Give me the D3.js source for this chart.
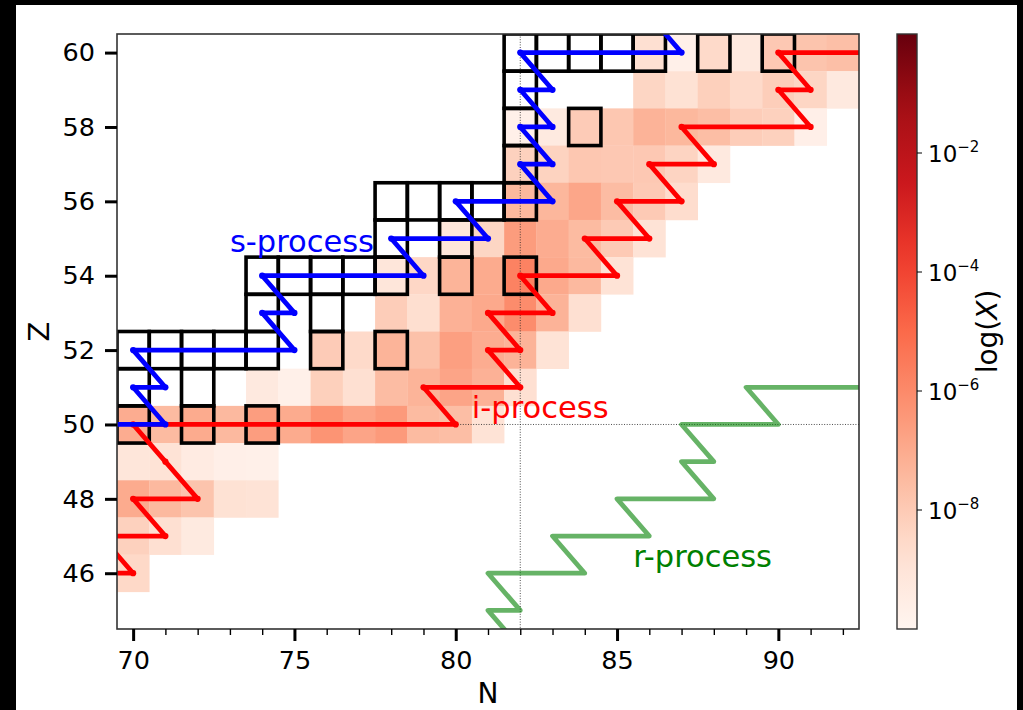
<!DOCTYPE html>
<html lang="en">
<head>
<meta charset="UTF-8" />
<title>s-, i- and r-process paths</title>
<script src="https://d3js.org/d3.v7.min.js"></script>
<style>
    body { margin: 0; background: #000; }
    svg { display: block; font-family: "DejaVu Sans", sans-serif; }
</style>
</head>
<body>
<script>
    // abundance map, log10(X) per cell, one list per Z row (null = empty)
    var rowZ = [60, 59, 58, 57, 56, 55, 54, 53, 52, 51, 50, 49, 48, 47, 46];
    var rowStartN = [86, 86, 82, 82, 82, 80, 78, 78, 76, 74, 70, 70, 70, 70, 70];
    var rowLogX = [
        [-8.75, -9.7, -8.55, -9.3, -7.95, -7.8, -7.65],
        [-8.4, -8.85, -8.2, -8.55, -8.15, -8.4, -9.3],
        [-9.7, -9.35, -8.05, -7.9, -7.25, -7.4, -7.6, -8.1, -8.25, -9.65],
        [-8.25, -8.3, -7.9, -7.95, -7.95, -8.35, -9.3],
        [-7.4, -7.38, -6.85, -7.55, -8.0, -8.65],
        [-9.1, -8.4, -6.55, -7.05, -7.5, -8.0, -8.9],
        [-9.1, -8.45, -7.3, -7.0, -5.75, -6.95, -7.45, -8.9],
        [-8.1, -8.7, -7.2, -6.95, -6.05, -7.25, -8.75],
        [-8.05, -8.55, -7.3, -7.7, -6.65, -7.05, -7.25, -8.9],
        [-9.3, -9.7, -8.2, -8.75, -7.55, -7.3, -6.8, -7.2, -8.75],
        [-7.05, -7.5, -7.0, -7.45, -6.6, -7.0, -6.3, -6.8, -6.5, -7.5, -7.6, -8.9],
        [-9.1, -8.9, -9.4, -9.65, -9.7],
        [-7.0, -7.45, -7.8, -8.85, -8.9],
        [-8.25, -8.75, -9.35],
        [-8.5]
    ];

    // stable (and long-lived) isotopes, drawn as black squares
    var stableN = [82, 83, 84, 85, 86, 88, 90, 82, 82, 84, 82, 78, 79, 80, 81, 82, 78, 80,
                   74, 75, 76, 77, 78, 80, 82, 74, 76, 70, 71, 72, 73, 74, 76, 78, 70, 72, 70, 72, 74];
    var stableZ = [60, 60, 60, 60, 60, 60, 60, 59, 58, 58, 57, 56, 56, 56, 56, 56, 55, 55,
                   54, 54, 54, 54, 54, 54, 54, 53, 53, 52, 52, 52, 52, 52, 52, 52, 51, 51, 50, 50, 50];

    // process paths
    var sPathN = [68, 71, 70, 71, 70, 75, 74, 75, 74, 79, 78, 81, 80, 83, 82, 83, 82, 83, 82, 83, 82, 87, 86];
    var sPathZ = [50, 50, 51, 51, 52, 52, 53, 53, 54, 54, 55, 55, 56, 56, 57, 57, 58, 58, 59, 59, 60, 60, 61];
    var iPathN = [69, 70, 69, 71, 70, 72, 71, 70, 80, 79, 82, 81, 82, 81, 83, 82, 85, 84, 86, 85, 87, 86, 88, 87, 91, 90, 91, 90, 94];
    var iPathZ = [46, 46, 47, 47, 48, 48, 49, 50, 50, 51, 51, 52, 52, 53, 53, 54, 54, 55, 55, 56, 56, 57, 57, 58, 58, 59, 59, 60, 60];
    var rPathN = [82, 81, 82, 81, 84, 83, 86, 85, 88, 87, 88, 87, 90, 89, 94];
    var rPathZ = [44, 45, 45, 46, 46, 47, 47, 48, 48, 49, 49, 50, 50, 51, 51];

    var labelText = ["s-process", "i-process", "r-process"];
    var labelN = [73, 80.5, 85.5];
    var labelZ = [54.65, 50.17, 46.18];

    var xMajor = [70, 75, 80, 85, 90];
    var yMajor = [46, 48, 50, 52, 54, 56, 58, 60];
    var cbTicks = [1e-2, 1e-4, 1e-6, 1e-8];
    var cbExp = ["\u22122", "\u22124", "\u22126", "\u22128"];

    var w = 1023, h = 710;
    var pLeft = 117, pRight = 859, pTop = 34, pBottom = 629;

    var svg = d3.select("body").append("svg")
        .attr("width", w)
        .attr("height", h);

    svg.append("rect").attr("width", w).attr("height", h).attr("fill", "#000");
    svg.append("rect").attr("x", 16).attr("y", 5).attr("width", 1001).attr("height", 705).attr("fill", "#fff");

    var xScale = d3.scaleLinear().domain([69.5, 92.5]).range([pLeft, pRight]);
    var yScale = d3.scaleLinear().domain([44.5, 60.5]).range([pBottom, pTop]);

    // matplotlib "Reds"
    var reds = ["#fff5f0", "#fee0d2", "#fcbba1", "#fc9272", "#fb6a4a", "#ef3b2c", "#cb181d", "#a50f15", "#67000d"];
    var color = d3.scaleLinear()
        .domain(d3.range(9).map(function(i) { return -10 + i * 10 / 8; }))
        .range(reds)
        .clamp(true);

    svg.append("clipPath").attr("id", "plotclip")
        .append("rect")
        .attr("x", pLeft).attr("y", pTop)
        .attr("width", pRight - pLeft).attr("height", pBottom - pTop);

    var plot = svg.append("g").attr("clip-path", "url(#plotclip)");

    var cells = [];
    rowZ.forEach(function(z, r) {
        rowLogX[r].forEach(function(v, k) {
            if (v !== null) cells.push({ n: rowStartN[r] + k, z: z, v: v });
        });
    });

    var cw = xScale(1) - xScale(0);
    var ch = yScale(0) - yScale(1);

    plot.selectAll("rect.cell")
        .data(cells)
        .enter()
        .append("rect")
        .attr("class", "cell")
        .attr("x", function(d) { return xScale(d.n - 0.5); })
        .attr("y", function(d) { return yScale(d.z + 0.5); })
        .attr("width", cw + 0.3)
        .attr("height", ch + 0.3)
        .attr("fill", function(d) { return color(d.v); });

    // magic numbers N=82, Z=50
    plot.append("line")
        .attr("x1", xScale(82)).attr("x2", xScale(82))
        .attr("y1", pTop).attr("y2", pBottom)
        .attr("stroke", "#222").attr("stroke-width", 0.8)
        .attr("stroke-dasharray", "1,1.6");
    plot.append("line")
        .attr("x1", pLeft).attr("x2", pRight)
        .attr("y1", yScale(50)).attr("y2", yScale(50))
        .attr("stroke", "#222").attr("stroke-width", 0.8)
        .attr("stroke-dasharray", "1,1.6");

    // stable squares
    plot.selectAll("rect.stable")
        .data(d3.range(stableN.length))
        .enter()
        .append("rect")
        .attr("class", "stable")
        .attr("x", function(i) { return xScale(stableN[i] - 0.5); })
        .attr("y", function(i) { return yScale(stableZ[i] + 0.5); })
        .attr("width", cw)
        .attr("height", ch)
        .attr("fill", "none")
        .attr("stroke", "#000")
        .attr("stroke-width", 3.6);

    var line = d3.line()
        .x(function(d) { return xScale(d[0]); })
        .y(function(d) { return yScale(d[1]); });

    function drawPath(ns, zs, col, opacity, markers) {
        var pts = d3.zip(ns, zs);
        plot.append("path")
            .datum(pts)
            .attr("d", line)
            .attr("fill", "none")
            .attr("stroke", col)
            .attr("stroke-opacity", opacity)
            .attr("stroke-width", 4.8)
            .attr("stroke-linejoin", "round")
            .attr("stroke-linecap", "round");
        if (markers) {
            plot.append("g").selectAll("circle")
                .data(pts)
                .enter()
                .append("circle")
                .attr("cx", function(d) { return xScale(d[0]); })
                .attr("cy", function(d) { return yScale(d[1]); })
                .attr("r", 3.1)
                .attr("fill", col);
        }
    }

    drawPath(iPathN, iPathZ, "#ff0000", 1, true);
    drawPath(sPathN, sPathZ, "#0000ff", 1, true);
    drawPath(rPathN, rPathZ, "#008000", 0.6, false);

    var labelColor = ["#0000ff", "#ff0000", "#008000"];
    svg.selectAll("text.plabel")
        .data(labelText)
        .enter()
        .append("text")
        .attr("class", "plabel")
        .attr("x", function(d, i) { return xScale(labelN[i]); })
        .attr("y", function(d, i) { return yScale(labelZ[i]); })
        .attr("font-size", 30.5)
        .attr("fill", function(d, i) { return labelColor[i]; })
        .text(function(d) { return d; });

    // frame
    svg.append("rect")
        .attr("x", pLeft).attr("y", pTop)
        .attr("width", pRight - pLeft).attr("height", pBottom - pTop)
        .attr("fill", "none").attr("stroke", "#333").attr("stroke-width", 1.6);

    // x axis
    var xAxis = svg.append("g")
        .attr("transform", "translate(0," + pBottom + ")")
        .call(d3.axisBottom(xScale).tickValues(xMajor).tickSize(12).tickPadding(10).tickFormat(d3.format("d")));
    xAxis.select(".domain").remove();
    xAxis.attr("font-size", 25.5).attr("font-family", "DejaVu Sans, sans-serif");
    xAxis.selectAll("line").attr("stroke", "#000").attr("stroke-width", 3);
    xAxis.selectAll("text").attr("fill", "#000");

    var xMinor = d3.range(70, 93).filter(function(n) { return n % 5 !== 0; });
    var xMinorAxis = svg.append("g")
        .attr("transform", "translate(0," + pBottom + ")")
        .call(d3.axisBottom(xScale).tickValues(xMinor).tickSize(6).tickFormat(""));
    xMinorAxis.select(".domain").remove();
    xMinorAxis.selectAll("line").attr("stroke", "#000").attr("stroke-width", 1.4);

    // y axis
    var yAxis = svg.append("g")
        .attr("transform", "translate(" + pLeft + ",0)")
        .call(d3.axisLeft(yScale).tickValues(yMajor).tickSize(12).tickPadding(10).tickFormat(d3.format("d")));
    yAxis.select(".domain").remove();
    yAxis.attr("font-size", 25.5).attr("font-family", "DejaVu Sans, sans-serif");
    yAxis.selectAll("line").attr("stroke", "#000").attr("stroke-width", 3);
    yAxis.selectAll("text").attr("fill", "#000");

    svg.append("text")
        .attr("x", (pLeft + pRight) / 2).attr("y", 703)
        .attr("text-anchor", "middle").attr("font-size", 28)
        .text("N");
    svg.append("text")
        .attr("transform", "translate(49," + (pTop + pBottom) / 2 + ") rotate(-90)")
        .attr("text-anchor", "middle").attr("font-size", 29)
        .text("Z");

    // colorbar
    var cbX = 897, cbW = 20;
    var cbScale = d3.scaleLog().domain([1e-10, 1]).range([pBottom, pTop]);
    var grad = svg.append("defs").append("linearGradient")
        .attr("id", "cbgrad")
        .attr("x1", 0).attr("y1", 1).attr("x2", 0).attr("y2", 0);
    d3.range(0, 1.0001, 0.05).forEach(function(t) {
        grad.append("stop")
            .attr("offset", t)
            .attr("stop-color", color(-10 + 10 * t));
    });
    svg.append("rect")
        .attr("x", cbX).attr("y", pTop)
        .attr("width", cbW).attr("height", pBottom - pTop)
        .attr("fill", "url(#cbgrad)")
        .attr("stroke", "#333").attr("stroke-width", 1.4);

    var cbg = svg.append("g").selectAll("g")
        .data(cbTicks)
        .enter()
        .append("g")
        .attr("transform", function(d) { return "translate(0," + cbScale(d) + ")"; });
    cbg.append("line")
        .attr("x1", cbX + cbW).attr("x2", cbX + cbW + 5)
        .attr("stroke", "#000").attr("stroke-width", 1);
    var cbt = cbg.append("text")
        .attr("x", 928).attr("y", 8.5)
        .attr("font-size", 23);
    cbt.append("tspan").text("10");
    cbt.append("tspan")
        .attr("dy", -10)
        .attr("font-size", 15)
        .text(function(d, i) { return cbExp[i]; });

    var cbLabel = svg.append("text")
        .attr("transform", "translate(997," + (pTop + pBottom) / 2 + ") rotate(-90)")
        .attr("text-anchor", "middle").attr("font-size", 28);
    cbLabel.append("tspan").text("log(");
    cbLabel.append("tspan").attr("font-style", "italic").text("X");
    cbLabel.append("tspan").text(")");
</script>
</body>
</html>
